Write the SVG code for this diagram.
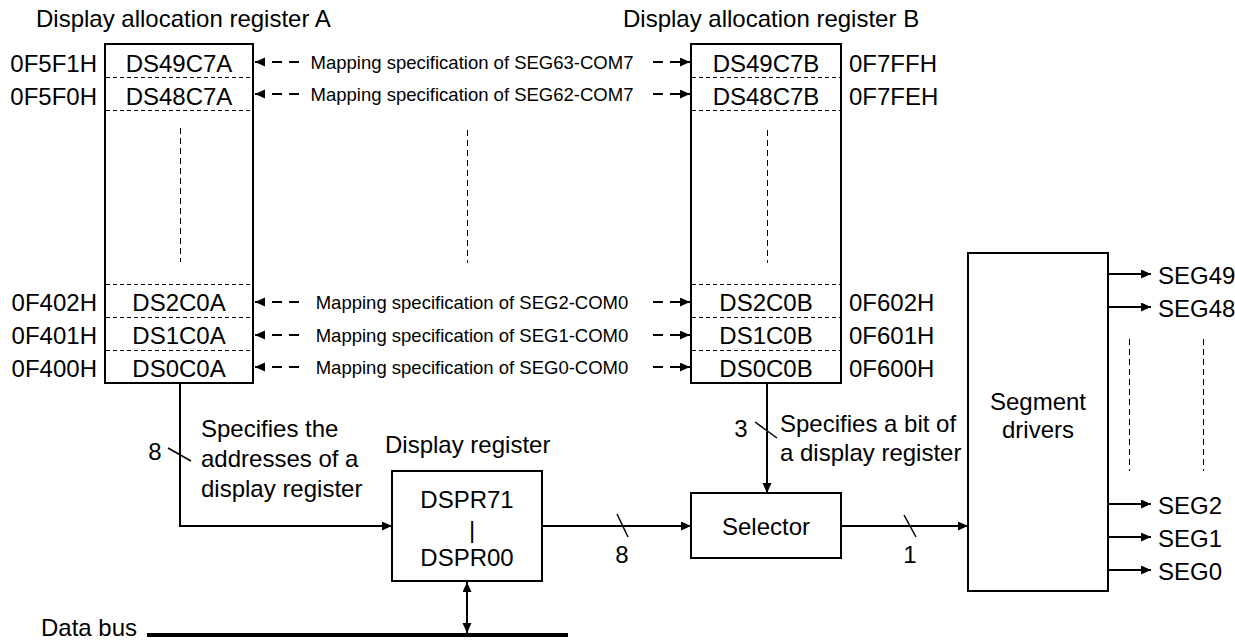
<svg xmlns="http://www.w3.org/2000/svg" width="1235" height="641" viewBox="0 0 1235 641">
<defs>
<marker id="ah" markerUnits="userSpaceOnUse" markerWidth="11" markerHeight="10" refX="10" refY="4.5" orient="auto-start-reverse">
<path d="M0,0 L10,4.5 L0,9 z" fill="#000"/>
</marker>
<style>
.t{font-family:"Liberation Sans",Arial,sans-serif;font-size:24px;fill:#000}
.m{font-size:18.5px}
.mid{text-anchor:middle}
.end{text-anchor:end}
.box{fill:#fff;stroke:#000;stroke-width:2}
.div{stroke:#000;stroke-width:1;stroke-dasharray:4 3}
.vd{stroke:#000;stroke-width:1;stroke-dasharray:6 4}
.c{stroke:#000;stroke-width:2;fill:none}
.ar{marker-end:url(#ah)}
.da{stroke:#000;stroke-width:2;stroke-dasharray:10 7;fill:none;marker-end:url(#ah)}
.tk{stroke:#000;stroke-width:1.5}
</style>
</defs>
<rect width="1235" height="641" fill="#fff"/>

<g id="regA">
<text class="t" x="36" y="27">Display allocation register A</text>
<rect class="box" x="105" y="44" width="148" height="339"/>
<line class="div" x1="106" y1="77.5" x2="252" y2="77.5"/>
<line class="div" x1="106" y1="110.5" x2="252" y2="110.5"/>
<line class="div" x1="106" y1="284.5" x2="252" y2="284.5"/>
<line class="div" x1="106" y1="317.5" x2="252" y2="317.5"/>
<line class="div" x1="106" y1="350.5" x2="252" y2="350.5"/>
<line class="vd" x1="180.5" y1="128" x2="180.5" y2="262"/>
<text class="t mid" x="179" y="72">DS49C7A</text>
<text class="t mid" x="179" y="105">DS48C7A</text>
<text class="t mid" x="179" y="311">DS2C0A</text>
<text class="t mid" x="179" y="344">DS1C0A</text>
<text class="t mid" x="179" y="377">DS0C0A</text>
<text class="t end" x="97" y="72">0F5F1H</text>
<text class="t end" x="97" y="105">0F5F0H</text>
<text class="t end" x="97" y="311">0F402H</text>
<text class="t end" x="97" y="344">0F401H</text>
<text class="t end" x="97" y="377">0F400H</text>
</g>

<g id="regB">
<text class="t" x="623" y="27">Display allocation register B</text>
<rect class="box" x="691" y="44" width="150" height="339"/>
<line class="div" x1="692" y1="77.5" x2="840" y2="77.5"/>
<line class="div" x1="692" y1="110.5" x2="840" y2="110.5"/>
<line class="div" x1="692" y1="284.5" x2="840" y2="284.5"/>
<line class="div" x1="692" y1="317.5" x2="840" y2="317.5"/>
<line class="div" x1="692" y1="350.5" x2="840" y2="350.5"/>
<line class="vd" x1="767.5" y1="130" x2="767.5" y2="263"/>
<text class="t mid" x="766" y="72">DS49C7B</text>
<text class="t mid" x="766" y="105">DS48C7B</text>
<text class="t mid" x="766" y="311">DS2C0B</text>
<text class="t mid" x="766" y="344">DS1C0B</text>
<text class="t mid" x="766" y="377">DS0C0B</text>
<text class="t" x="849" y="72">0F7FFH</text>
<text class="t" x="849" y="105">0F7FEH</text>
<text class="t" x="849" y="311">0F602H</text>
<text class="t" x="849" y="344">0F601H</text>
<text class="t" x="849" y="377">0F600H</text>
</g>

<g id="mapping">
<text class="t m mid" x="472" y="69">Mapping specification of SEG63-COM7</text>
<text class="t m mid" x="472" y="101">Mapping specification of SEG62-COM7</text>
<line class="vd" x1="467.5" y1="130" x2="467.5" y2="263"/>
<text class="t m mid" x="472" y="309">Mapping specification of SEG2-COM0</text>
<text class="t m mid" x="472" y="342">Mapping specification of SEG1-COM0</text>
<text class="t m mid" x="472" y="374">Mapping specification of SEG0-COM0</text>
</g>

<g id="dspr">
<text class="t" x="385" y="453">Display register</text>
<rect class="box" x="392" y="471" width="150" height="110"/>
<text class="t mid" x="467" y="508">DSPR71</text>
<text class="t mid" x="472" y="538">|</text>
<text class="t mid" x="467" y="566">DSPR00</text>
</g>

<g id="selector">
<rect class="box" x="691" y="493" width="150" height="65"/>
<text class="t mid" x="766" y="535">Selector</text>
</g>

<g id="segdrv">
<rect class="box" x="968" y="253" width="140" height="338"/>
<text class="t mid" x="1038" y="410">Segment</text>
<text class="t mid" x="1038" y="438">drivers</text>
<text class="t" x="1158" y="284">SEG49</text>
<text class="t" x="1158" y="317">SEG48</text>
<text class="t" x="1158" y="514">SEG2</text>
<text class="t" x="1158" y="547">SEG1</text>
<text class="t" x="1158" y="580">SEG0</text>
<line class="vd" x1="1129.5" y1="339" x2="1129.5" y2="471"/>
<line class="vd" x1="1203.5" y1="339" x2="1203.5" y2="471"/>
</g>

<g id="databus">
<text class="t" x="41" y="636">Data bus</text>
<line x1="147" y1="635" x2="568" y2="635" stroke="#000" stroke-width="4"/>
</g>

<g id="connectors">
<path class="da" d="M299,62 H255"/>
<path class="da" d="M299,94 H255"/>
<path class="da" d="M299,302 H255"/>
<path class="da" d="M299,335 H255"/>
<path class="da" d="M299,367 H255"/>
<path class="da" d="M653,62 H690"/>
<path class="da" d="M653,94 H690"/>
<path class="da" d="M653,302 H690"/>
<path class="da" d="M653,335 H690"/>
<path class="da" d="M653,367 H690"/>

<path class="c ar" d="M180,383 V526 H392"/>
<line class="tk" x1="168" y1="448" x2="191" y2="461"/>
<text class="t mid" x="155" y="460">8</text>
<text class="t" x="201" y="437">Specifies the</text>
<text class="t" x="201" y="467">addresses of a</text>
<text class="t" x="201" y="497">display register</text>

<path class="c ar" d="M542,526 H691"/>
<line class="tk" x1="617" y1="514" x2="628" y2="537"/>
<text class="t mid" x="622" y="563">8</text>

<path class="c ar" d="M767,383 V493"/>
<line class="tk" x1="755" y1="422" x2="777" y2="438"/>
<text class="t mid" x="741" y="437">3</text>
<text class="t" x="780" y="432">Specifies a bit of</text>
<text class="t" x="780" y="461">a display register</text>

<path class="c ar" d="M841,526 H968"/>
<line class="tk" x1="904" y1="515" x2="916" y2="537"/>
<text class="t mid" x="910" y="563">1</text>

<path class="c" d="M467,582 V633" marker-start="url(#ah)" marker-end="url(#ah)"/>

<path class="c ar" d="M1108,274 H1151"/>
<path class="c ar" d="M1108,307 H1151"/>
<path class="c ar" d="M1108,504 H1151"/>
<path class="c ar" d="M1108,537 H1151"/>
<path class="c ar" d="M1108,570 H1151"/>
</g>
</svg>
